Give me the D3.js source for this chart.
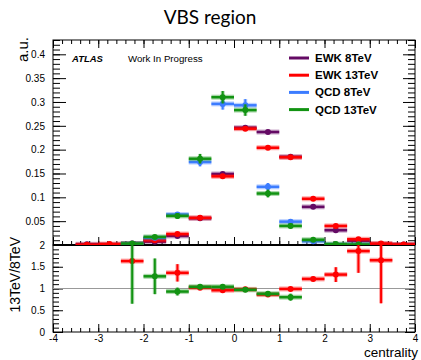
<!DOCTYPE html>
<html lang="en">
<head>
<meta charset="UTF-8">
<title>VBS region</title>
<script src="https://d3js.org/d3.v7.min.js"></script>
<style>
  body { margin: 0; background: #fff; }
  svg text { font-family: "Liberation Sans", Arial, sans-serif; }
</style>
</head>
<body>
<svg id="chart" width="421" height="360"></svg>
<script>
// bin centres of the centrality histogram (width 0.5)
const binCenters = [-3.75, -3.25, -2.75, -2.25, -1.75, -1.25, -0.75, -0.25, 0.25, 0.75, 1.25, 1.75, 2.25, 2.75, 3.25, 3.75];
const binWidth = 0.5;

// normalised distributions (a.u.)
const ewk8 = [0, 0.0015, 0.001, 0.002, 0.007, 0.019, 0.056, 0.149, 0.246, 0.237, 0.185, 0.080, 0.031, 0.009, 0.002, 0.001];
const ewk8Err = [0, 0.0005, 0.0005, 0.001, 0.001, 0.002, 0.002, 0.003, 0.003, 0.003, 0.003, 0.002, 0.002, 0.001, 0.001, 0.0005];
const ewk13 = [0, 0.0005, 0.002, 0.003, 0.010, 0.023, 0.057, 0.144, 0.244, 0.204, 0.184, 0.097, 0.040, 0.012, 0.003, 0.001];
const ewk13Err = [0, 0.0005, 0.0005, 0.001, 0.001, 0.002, 0.002, 0.003, 0.003, 0.003, 0.003, 0.002, 0.002, 0.001, 0.001, 0.0005];
const qcd8 = [0, 0, 0, 0.003, 0.015, 0.064, 0.174, 0.296, 0.293, 0.122, 0.049, 0.008, 0.001, 0.001, 0, 0];
const qcd8Err = [0, 0, 0, 0.002, 0.003, 0.005, 0.009, 0.012, 0.013, 0.008, 0.005, 0.002, 0.001, 0.001, 0, 0];
const qcd13 = [0, 0, 0, 0.003, 0.017, 0.061, 0.181, 0.310, 0.283, 0.108, 0.040, 0.011, 0.002, 0.001, 0, 0];
const qcd13Err = [0, 0, 0, 0.003, 0.004, 0.006, 0.010, 0.013, 0.012, 0.008, 0.005, 0.002, 0.001, 0.001, 0, 0];

// ratio 13TeV / 8TeV (null = not drawn)
const ratioEwk = [null, null, null, 1.63, null, 1.36, 1.02, 0.96, 0.98, 0.86, 0.99, 1.22, 1.32, 1.86, 1.65, null];
const ratioEwkErr = [0, 0, 0, 0.03, 0, 0.2, 0.04, 0.03, 0.02, 0.03, 0.03, 0.05, 0.17, 0.5, 0.99, 0];
const ratioQcd = [null, null, null, 2.3, 1.28, 0.93, 1.04, 1.04, 0.97, 0.88, 0.80, null, null, null, null, null];
const ratioQcdErr = [0, 0, 0, 1.65, 0.41, 0.09, 0.04, 0.03, 0.02, 0.04, 0.08, 0, 0, 0, 0, 0];

const seriesNames = ["EWK 8TeV", "EWK 13TeV", "QCD 8TeV", "QCD 13TeV"];
const seriesColors = ["#640a64", "#ff0000", "#3c7cff", "#129312"];

const xTicks = [-4, -3, -2, -1, 0, 1, 2, 3, 4];
const topYTicks = [0.05, 0.1, 0.15, 0.2, 0.25, 0.3, 0.35, 0.4];
const ratioYTicks = [0, 0.5, 1, 1.5, 2];

const svg = d3.select("#chart");
const padL = 53, padR = 415, padT = 40, padM = 245, padB = 332;

const x = d3.scaleLinear().domain([-4, 4]).range([padL, padR]);
const yTop = d3.scaleLinear().domain([0, 0.43]).range([padM, padT]);
const yRat = d3.scaleLinear().domain([0, 2]).range([padB, padM]);

// clip paths for each pad
const defs = svg.append("defs");
defs.append("clipPath").attr("id", "clipTop").append("rect")
    .attr("x", padL).attr("y", padT).attr("width", padR - padL).attr("height", padM - padT);
defs.append("clipPath").attr("id", "clipRat").append("rect")
    .attr("x", padL).attr("y", padM).attr("width", padR - padL).attr("height", padB - padM);

// ---- ticks (ROOT style, inside the frame) ----
function minorRange(a, b, step) {
    const out = [];
    for (let v = a; v <= b + 1e-9; v += step) out.push(+v.toFixed(4));
    return out;
}

// top pad y axis
svg.append("g").attr("transform", `translate(${padL},0)`)
    .call(d3.axisLeft(yTop).tickValues(minorRange(0.01, 0.43, 0.01)).tickSize(-7).tickFormat(""));
svg.append("g").attr("transform", `translate(${padL},0)`)
    .call(d3.axisLeft(yTop).tickValues(topYTicks).tickSize(-13).tickPadding(8)
        .tickFormat(d => String(+d.toFixed(2))));
svg.append("g").attr("transform", `translate(${padR},0)`)
    .call(d3.axisRight(yTop).tickValues(minorRange(0.01, 0.43, 0.01)).tickSize(-7).tickFormat(""));
svg.append("g").attr("transform", `translate(${padR},0)`)
    .call(d3.axisRight(yTop).tickValues(topYTicks).tickSize(-12).tickFormat(""));

// ratio pad y axis
svg.append("g").attr("transform", `translate(${padL},0)`)
    .call(d3.axisLeft(yRat).tickValues(minorRange(0.1, 1.9, 0.1)).tickSize(-6).tickFormat(""));
svg.append("g").attr("transform", `translate(${padL},0)`)
    .call(d3.axisLeft(yRat).tickValues(ratioYTicks).tickSize(-10).tickPadding(8)
        .tickFormat(d => String(d)));
svg.append("g").attr("transform", `translate(${padR},0)`)
    .call(d3.axisRight(yRat).tickValues(minorRange(0.1, 1.9, 0.1)).tickSize(-6).tickFormat(""));
svg.append("g").attr("transform", `translate(${padR},0)`)
    .call(d3.axisRight(yRat).tickValues(ratioYTicks).tickSize(-10).tickFormat(""));

// x axes
const xMinor = minorRange(-4, 4, 0.2);
[[padM, "bottom"], [padT, "top"], [padB, "bottom"]].forEach(([yy, side], i) => {
    const mk = side === "bottom" ? d3.axisBottom : d3.axisTop;
    svg.append("g").attr("transform", `translate(0,${yy})`)
        .call(mk(x).tickValues(xMinor).tickSize(-4).tickFormat(""));
    svg.append("g").attr("transform", `translate(0,${yy})`)
        .call(mk(x).tickValues(xTicks).tickSize(-8).tickPadding(3)
            .tickFormat(i === 2 ? (d => String(d)) : ""));
});

svg.selectAll(".domain").remove();
svg.selectAll(".tick line").attr("stroke", "#000").attr("stroke-width", 1);
svg.selectAll(".tick text").attr("font-size", 10).attr("fill", "#000")
    .style("font-family", "'Liberation Sans', Arial, sans-serif");

// frames
svg.append("rect").attr("x", padL).attr("y", padT).attr("width", padR - padL).attr("height", padM - padT)
    .attr("fill", "none").attr("stroke", "#000");
svg.append("rect").attr("x", padL).attr("y", padM).attr("width", padR - padL).attr("height", padB - padM)
    .attr("fill", "none").attr("stroke", "#000");
svg.append("line").attr("x1", padL).attr("x2", padR).attr("y1", padM).attr("y2", padM)
    .attr("stroke", "#000").attr("stroke-width", 2);

// reference line at ratio 1
svg.append("line").attr("x1", padL).attr("x2", padR).attr("y1", yRat(1)).attr("y2", yRat(1))
    .attr("stroke", "#999").attr("stroke-width", 1);

// ---- error-bar markers ----
function drawSeries(g, vals, errs, y, color) {
    const pts = binCenters.map((c, i) => ({ c, v: vals[i], e: errs[i] }))
        .filter(d => d.v !== null && d.v > 0);
    const s = g.append("g");
    // soft halo
    s.selectAll(".hh").data(pts).join("line")
        .attr("x1", d => x(d.c - binWidth / 2)).attr("x2", d => x(d.c + binWidth / 2))
        .attr("y1", d => y(d.v)).attr("y2", d => y(d.v))
        .attr("stroke", color).attr("stroke-opacity", 0.35).attr("stroke-width", 5);
    s.selectAll(".vh").data(pts.filter(d => d.e > 0)).join("line")
        .attr("x1", d => x(d.c)).attr("x2", d => x(d.c))
        .attr("y1", d => y(d.v - d.e)).attr("y2", d => y(d.v + d.e))
        .attr("stroke", color).attr("stroke-opacity", 0.35).attr("stroke-width", 4);
    s.selectAll(".hl").data(pts).join("line")
        .attr("x1", d => x(d.c - binWidth / 2)).attr("x2", d => x(d.c + binWidth / 2))
        .attr("y1", d => y(d.v)).attr("y2", d => y(d.v))
        .attr("stroke", color).attr("stroke-width", 2.5);
    s.selectAll(".vl").data(pts.filter(d => d.e > 0)).join("line")
        .attr("x1", d => x(d.c)).attr("x2", d => x(d.c))
        .attr("y1", d => y(d.v - d.e)).attr("y2", d => y(d.v + d.e))
        .attr("stroke", color).attr("stroke-width", 2);
    s.selectAll("circle").data(pts).join("circle")
        .attr("cx", d => x(d.c)).attr("cy", d => y(d.v)).attr("r", 3)
        .attr("fill", color);
}

const gTop = svg.append("g").attr("clip-path", "url(#clipTop)");
drawSeries(gTop, ewk8, ewk8Err, yTop, seriesColors[0]);
drawSeries(gTop, ewk13, ewk13Err, yTop, seriesColors[1]);
drawSeries(gTop, qcd8, qcd8Err, yTop, seriesColors[2]);
drawSeries(gTop, qcd13, qcd13Err, yTop, seriesColors[3]);

const gRat = svg.append("g").attr("clip-path", "url(#clipRat)");
drawSeries(gRat, ratioEwk, ratioEwkErr, yRat, seriesColors[1]);
drawSeries(gRat, ratioQcd, ratioQcdErr, yRat, seriesColors[3]);

// ---- legend ----
const leg = svg.append("g");
seriesNames.forEach((name, i) => {
    const yy = 58 + i * 17.2;
    leg.append("line").attr("x1", 289).attr("x2", 309).attr("y1", yy).attr("y2", yy)
        .attr("stroke", seriesColors[i]).attr("stroke-width", 3);
    leg.append("text").attr("x", 315).attr("y", yy + 4).attr("font-size", 11.5)
        .attr("font-weight", "bold").text(name);
});

// ---- labels ----
svg.append("text").attr("x", 72).attr("y", 62).attr("font-size", 9.5)
    .attr("font-weight", "bold").attr("font-style", "italic").text("ATLAS");
svg.append("text").attr("x", 128).attr("y", 62).attr("font-size", 9.7).text("Work In Progress");

svg.append("text").attr("x", 210).attr("y", 24).attr("text-anchor", "middle")
    .attr("font-size", 19).style("font-family", "Lato, 'DejaVu Sans', sans-serif").text("VBS region");

svg.append("text").attr("transform", "translate(28,37) rotate(-90)").attr("text-anchor", "end")
    .attr("font-size", 15).text("a.u.");
svg.append("text").attr("transform", "translate(20,237) rotate(-90)").attr("text-anchor", "end")
    .attr("font-size", 14).text("13TeV/8TeV");
svg.append("text").attr("x", 418).attr("y", 357).attr("text-anchor", "end")
    .attr("font-size", 13.5).text("centrality");
</script>
</body>
</html>
